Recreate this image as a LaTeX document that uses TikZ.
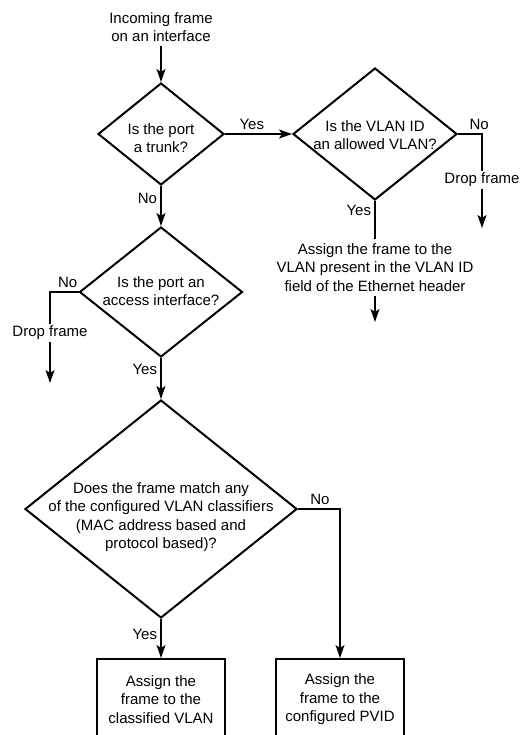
\documentclass[tikz,border=0pt]{standalone}
\usepackage{fontspec}
\setmainfont{Liberation Sans}
\usetikzlibrary{shapes.geometric,arrows.meta}

\begin{document}
\begin{tikzpicture}[x=1pt,y=-1pt,
        font=\fontsize{15}{18.5}\selectfont,
        decision/.style={diamond,draw,line width=2pt,inner sep=0pt},
        qtext/.style={align=center,inner sep=0pt},
        action/.style={rectangle,draw,line width=2pt,minimum width=128pt,
            minimum height=81pt,align=center},
        plain/.style={align=center,inner sep=2pt},
        link/.style={line width=1.2pt},
        flow/.style={link,-{Stealth[length=13pt,width=9pt,inset=3pt]}}
    ]
    \useasboundingbox (0,0) rectangle (519,735);
    \clip (0,0) rectangle (519,735);

    % questions
    \node[plain,inner sep=4pt] (start) at (161,27) {Incoming frame\\on an interface};
    \node[decision,minimum width=126pt,minimum height=102pt] (trunk) at (161,134) {};
    \node[qtext] (trunktext) at (161,138) {Is the port\\a trunk?};
    \node[decision,minimum width=164pt,minimum height=132pt] (allowed) at (375,134) {};
    \node[qtext] (allowedtext) at (375,135) {Is the VLAN ID\\an allowed VLAN?};
    \node[decision,minimum width=163pt,minimum height=130pt] (access) at (161,292) {};
    \node[qtext] (accesstext) at (161,291) {Is the port an\\access interface?};
    \node[decision,minimum width=272pt,minimum height=218pt] (classify) at (161,509) {};
    \node[qtext] (classifytext) at (161,517) {Does the frame match any\\of the configured VLAN classifiers\\(MAC address based and\\protocol based)?};

    % outcomes
    \node[plain] (drop1) at (482,180) {Drop frame};
    \coordinate (drop1end) at (482,228);
    \node[plain,inner sep=4pt] (tagged) at (375,267.5) {Assign the frame to the\\VLAN present in the VLAN ID\\field of the Ethernet header};
    \coordinate (taggedend) at (375,322);
    \node[plain] (drop2) at (50,333) {Drop frame};
    \coordinate (drop2end) at (50,383);
    \node[action] (vlan) at (161,699.5) {Assign the\\frame to the\\classified VLAN};
    \node[action] (pvid) at (340,699.5) {Assign the\\frame to the\\configured PVID};

    % connectors
    \draw[flow] (start) -- (trunk);
    \draw[flow] (trunk) -- node[above,pos=0.4] (yes1) {Yes} (allowed);
    \draw[link] (allowed.east) -| node[above,pos=0.44] (no1) {No} (drop1.north);
    \draw[flow] (drop1.south) -- (drop1end);
    \draw[link] (allowed) -- node[left,pos=0.25] (yes2) {Yes} (tagged.north);
    \draw[flow] (tagged.south) -- (taggedend);
    \draw[flow] (trunk) -- node[left,pos=0.3] (no2) {No} (access);
    \draw[link] (access.west) -| node[above,pos=0.19] (no3) {No} (drop2.north);
    \draw[flow] (drop2.south) -- (drop2end);
    \draw[flow] (access) -- node[left,pos=0.28] (yes3) {Yes} (classify);
    \draw[flow] (classify.east) -| node[above,pos=0.26] (no4) {No} (pvid.north);
    \draw[flow] (classify) -- node[left,pos=0.4] (yes4) {Yes} (vlan);
\end{tikzpicture}
\end{document}
